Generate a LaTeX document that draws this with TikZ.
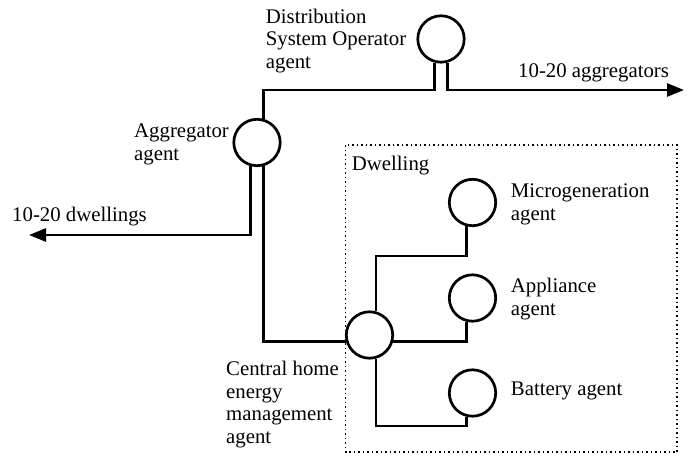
\documentclass[tikz,border=0pt]{standalone}
\usepackage{fontspec}
\setmainfont{Liberation Serif}
\usetikzlibrary{arrows.meta}
\begin{document}
\begin{tikzpicture}[x=1pt,y=-1pt,
  agentnode/.style={circle,draw,line width=2.7pt,minimum size=46.4pt,inner sep=0pt},
  link/.style={line width=2.7pt},
  arrowlink/.style={line width=2.7pt,-{Triangle[length=17pt,width=13pt]}},
  lbl/.style={inner sep=0pt,anchor=base west,align=left,font=\fontsize{20.8}{22.5}\selectfont},
  dwellbox/.style={line width=1.5pt,dash pattern=on 1.5pt off 3pt}]
\useasboundingbox (0,0) rectangle (693,455);
\draw[dwellbox] (345.5,145) rectangle (677,452);
\node[agentnode] (dso) at (441,39) {};
\node[agentnode] (agg) at (257,142.5) {};
\node[agentnode] (chema) at (369.5,335) {};
\node[agentnode] (micro) at (472.5,202.5) {};
\node[agentnode] (appl) at (472.5,298) {};
\node[agentnode] (batt) at (472.5,393) {};
\coordinate (aggrEnd) at (684,90);
\coordinate (dwEnd) at (29,235);
\node[lbl] (tdso) at (265.7,68.3) {Distribution\\System Operator\\agent};
\node[lbl] (tagg) at (134,160) {Aggregator\\agent};
\node[lbl] (tdw) at (12,221.7) {10-20 dwellings};
\node[lbl] (tag) at (518,77) {10-20 aggregators};
\node[lbl] (tdwell) at (351.7,170) {Dwelling};
\node[lbl] (tmicro) at (510.7,220) {Microgeneration\\agent};
\node[lbl] (tappl) at (510.7,315) {Appliance\\agent};
\node[lbl] (tbatt) at (510.7,395) {Battery agent};
\node[lbl] (tchema) at (226,443) {Central home\\energy\\management\\agent};
\draw[link] (dso.255) |- (agg.75 |- 0,90) -- (agg.75);
\draw[arrowlink] (dso.285) |- (aggrEnd);
\draw[arrowlink] (agg.255) |- (dwEnd);
\draw[link] (agg.285) |- (chema.195);
\draw[link] (chema.75) |- (micro.255 |- 0,256) -- (micro.255);
\draw[link] (chema.345) -| (appl.255);
\draw[link] (chema.285) |- (batt.255 |- 0,426) -- (batt.255);
\end{tikzpicture}
\end{document}
